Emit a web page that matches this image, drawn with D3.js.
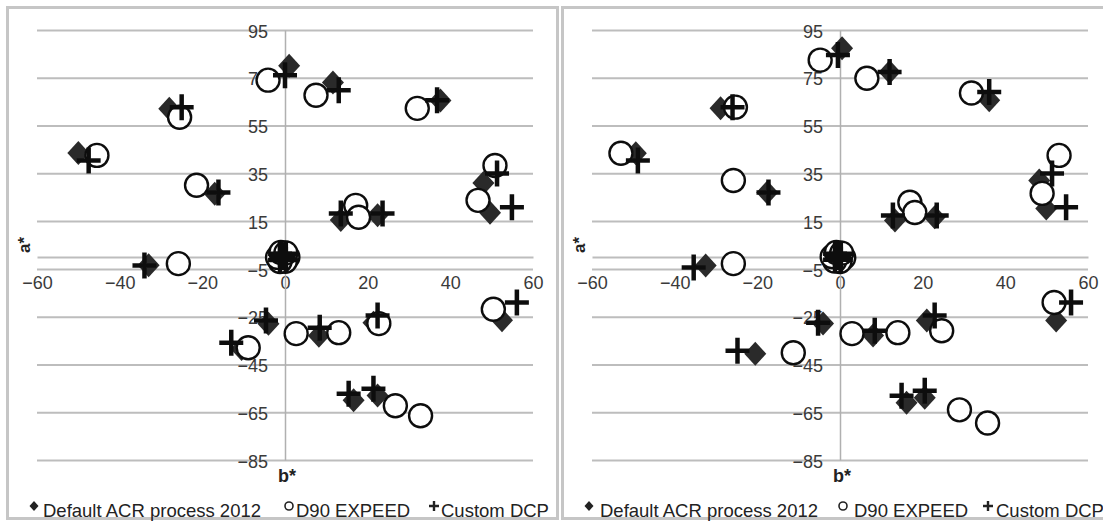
<!DOCTYPE html>
<html>
<head>
<meta charset="utf-8">
<script src="https://cdn.jsdelivr.net/npm/d3@7"></script>
<style>
  body { margin: 0; background: #fff; }
  svg { display: block; }
  text { font-family: "Liberation Sans", Arial, sans-serif; }
</style>
</head>
<body>
<svg id="chart" width="1103" height="521"></svg>
<script>
// axis ticks
var bTicks = [-60, -40, -20, 0, 20, 40, 60];
var aTicks = [95, 75, 55, 35, 15, -5, -25, -45, -65, -85];
var seriesNames = ["Default ACR process 2012", "D90 EXPEED", "Custom DCP"];

// left chart, [b*, a*]
var acrLeft = [[1, 80], [11.6, 73], [37.6, 65.5], [-28, 62], [-50, 43.5], [-17, 26.5],
  [48, 31], [49.6, 18.5], [13.5, 15.5], [22.4, 17.5], [-33, -3.5], [-4, -28],
  [8.2, -33], [21.4, -27.5], [52.5, -26.5], [-10.5, -38.5], [16.6, -60], [22.4, -58],
  [-0.5, 0], [0.5, 1], [0, -1], [1, 0.5], [-1, 1], [0.3, -0.5]];
var d90Left = [[-4.1, 74], [7.5, 67.7], [32, 62.2], [-25.5, 58.5], [-45.5, 42.5], [-21.4, 30],
  [50.8, 38.3], [46.7, 23.7], [17.1, 21.6], [17.8, 16.6], [-25.8, -2.8], [2.7, -32.1],
  [13, -31.7], [22.7, -27.9], [50.4, -21.9], [-8.9, -38], [26.7, -62.3], [32.8, -66.5],
  [0.7, 0], [0.1, -1.8], [-1.2, -1.9], [-1.8, -0.2], [-1, 1.9], [0.2, 1.7]];
var dcpLeft = [[0, 76.1], [13, 69.8], [36.8, 65.6], [-25, 62.7], [-47.5, 40.4], [-16.1, 27],
  [51.3, 34.9], [54.9, 20.8], [13.5, 18.2], [23.6, 18.2], [-34, -3.6], [-4.6, -26.6],
  [8.4, -29.6], [22.4, -24.5], [56.1, -19.1], [-13, -35.9], [15.4, -57.3], [21.4, -55.2],
  [0.2, -1.3], [-1.2, 1.3], [0.2, 1.3], [-1.2, -1.3], [-0.5, 0], [-0.3, 0.4]];

// right chart
var acrRight = [[0.5, 87.4], [12, 77.4], [36.1, 65.6], [-28.9, 62.2], [-49.4, 43.4], [-17.6, 27],
  [48.2, 32], [49.9, 20.3], [13.3, 15.3], [22.9, 16.6], [-32.5, -3.6], [-4.1, -27.9],
  [8, -32.9], [21, -26.6], [52.3, -26.6], [-20.5, -40.5], [16.1, -61], [20.5, -58.9],
  [-1, 0], [0, 1], [-0.5, -1], [0.5, 0.5], [-1.5, 1], [-0.2, -0.5]];
var d90Right = [[-4.8, 82.4], [6.5, 74.8], [31.8, 68.6], [-25.3, 62.7], [-53, 43.4], [-25.8, 32],
  [53, 42.5], [48.9, 26.6], [16.9, 22.9], [18.1, 18.6], [-25.8, -2.8], [2.9, -32.1],
  [14, -31.7], [24.6, -30.9], [51.8, -19.1], [-11.3, -40.1], [28.9, -64], [35.7, -69.5],
  [0.9, -0.3], [0, -1.9], [-1.3, -1.7], [-1.9, 0.1], [-0.9, 1.9], [0.4, 1.6]];
var dcpRight = [[-0.5, 84.5], [12, 77.4], [36.1, 69], [-26, 62.7], [-48.9, 40.4], [-17.3, 27],
  [51.3, 34.9], [54.7, 20.8], [12.8, 17.4], [23.4, 17.4], [-35.4, -4.4], [-5.3, -27.5],
  [8.4, -30.9], [22.9, -24.5], [55.9, -19.1], [-24.8, -39.3], [14.9, -58.1], [20.5, -56],
  [0.2, -1.2], [-1.2, 1.3], [0.2, 1.3], [-1.2, -1.2], [-0.5, 0], [-0.2, 0.4]];

var svg = d3.select("#chart");

// soft edges like the source image
svg.append("defs").append("filter")
  .attr("id", "soft")
  .append("feGaussianBlur").attr("stdDeviation", 0.55);

var diamondPath = "M0,-12L11,0L0,12L-11,0Z";
var plusPath = "M-12,0H12M0,-13V13";

function drawPanel(offsetX, acr, d90, dcp, legendX) {
  var g = svg.append("g").attr("transform", "translate(" + offsetX + ",0)");

  g.append("rect")
    .attr("x", 7.5).attr("y", 7.5)
    .attr("width", 550).attr("height", 511)
    .attr("fill", "none")
    .attr("stroke", "#c6c6c6")
    .attr("stroke-width", 3);

  var x = d3.scaleLinear().domain([-60, 60]).range([37, 533]);
  var y = d3.scaleLinear().domain([-85, 95]).range([460, 30]);

  // gridlines
  var grid = g.append("g")
    .attr("transform", "translate(37,0)")
    .call(d3.axisLeft(y).tickValues(aTicks).tickSize(-(533 - 37)).tickFormat(""));
  grid.select(".domain").remove();
  grid.selectAll("line").attr("stroke", "#bdbdbd").attr("stroke-width", 2);

  // horizontal axis at a* = 0
  var xAxis = g.append("g")
    .attr("transform", "translate(0," + y(0) + ")")
    .call(d3.axisBottom(x).tickValues(bTicks).tickSize(0).tickPadding(19));
  xAxis.select(".domain").attr("stroke", "#bdbdbd").attr("stroke-width", 2);
  xAxis.selectAll("text")
    .attr("fill", "#3a3a3a")
    .style("font-size", "18px");

  // vertical axis at b* = 0
  var yAxis = g.append("g")
    .attr("transform", "translate(" + x(0) + ",0)")
    .call(d3.axisLeft(y).tickValues(aTicks).tickSize(0).tickPadding(17));
  yAxis.select(".domain").attr("stroke", "#b0b0b0").attr("stroke-width", 1.5);
  yAxis.selectAll("text")
    .attr("fill", "#3a3a3a")
    .attr("dy", "0.4em")
    .style("font-size", "18px");

  // axis titles
  g.append("text")
    .attr("x", x(0) + 2).attr("y", 482)
    .attr("text-anchor", "middle")
    .style("font-size", "18px").style("font-weight", "bold")
    .attr("fill", "#222")
    .text("b*");
  g.append("text")
    .attr("transform", "translate(30,245) rotate(-90)")
    .attr("text-anchor", "middle")
    .style("font-size", "17px").style("font-weight", "bold")
    .attr("fill", "#222")
    .text("a*");

  // markers
  var marks = g.append("g").attr("filter", "url(#soft)");

  marks.append("g").selectAll("path")
    .data(acr).enter().append("path")
    .attr("d", diamondPath)
    .attr("transform", function (d) { return "translate(" + x(d[0]) + "," + y(d[1]) + ")"; })
    .attr("fill", "#2a2a2a");

  marks.append("g").selectAll("circle")
    .data(d90).enter().append("circle")
    .attr("cx", function (d) { return x(d[0]); })
    .attr("cy", function (d) { return y(d[1]); })
    .attr("r", 11.5)
    .attr("fill", "#fff")
    .attr("stroke", "#111")
    .attr("stroke-width", 2.4);

  marks.append("g").selectAll("path")
    .data(dcp).enter().append("path")
    .attr("d", plusPath)
    .attr("transform", function (d) { return "translate(" + x(d[0]) + "," + y(d[1]) + ")"; })
    .attr("fill", "none")
    .attr("stroke", "#111")
    .attr("stroke-width", 4.5);

  // legend
  var leg = g.append("g");
  leg.append("path").attr("d", "M0,-5L4.5,0L0,5L-4.5,0Z")
    .attr("transform", "translate(" + legendX[0] + ",506)").attr("fill", "#222");
  leg.append("circle").attr("cx", legendX[2]).attr("cy", 506).attr("r", 4)
    .attr("fill", "#fff").attr("stroke", "#222").attr("stroke-width", 1.6);
  leg.append("path").attr("d", "M-5,0H5M0,-5V5")
    .attr("transform", "translate(" + legendX[4] + ",506)")
    .attr("stroke", "#222").attr("stroke-width", 2.4);
  leg.selectAll("text")
    .data(seriesNames).enter().append("text")
    .attr("x", function (d, i) { return legendX[i * 2 + 1]; })
    .attr("y", 517)
    .attr("fill", "#222")
    .style("font-size", "18.5px")
    .text(function (d) { return d; });
}

drawPanel(0, acrLeft, d90Left, dcpLeft, [34, 43, 289, 296, 434, 441]);
drawPanel(555, acrRight, d90Right, dcpRight, [34, 45, 288, 299, 433, 441]);
</script>
</body>
</html>
